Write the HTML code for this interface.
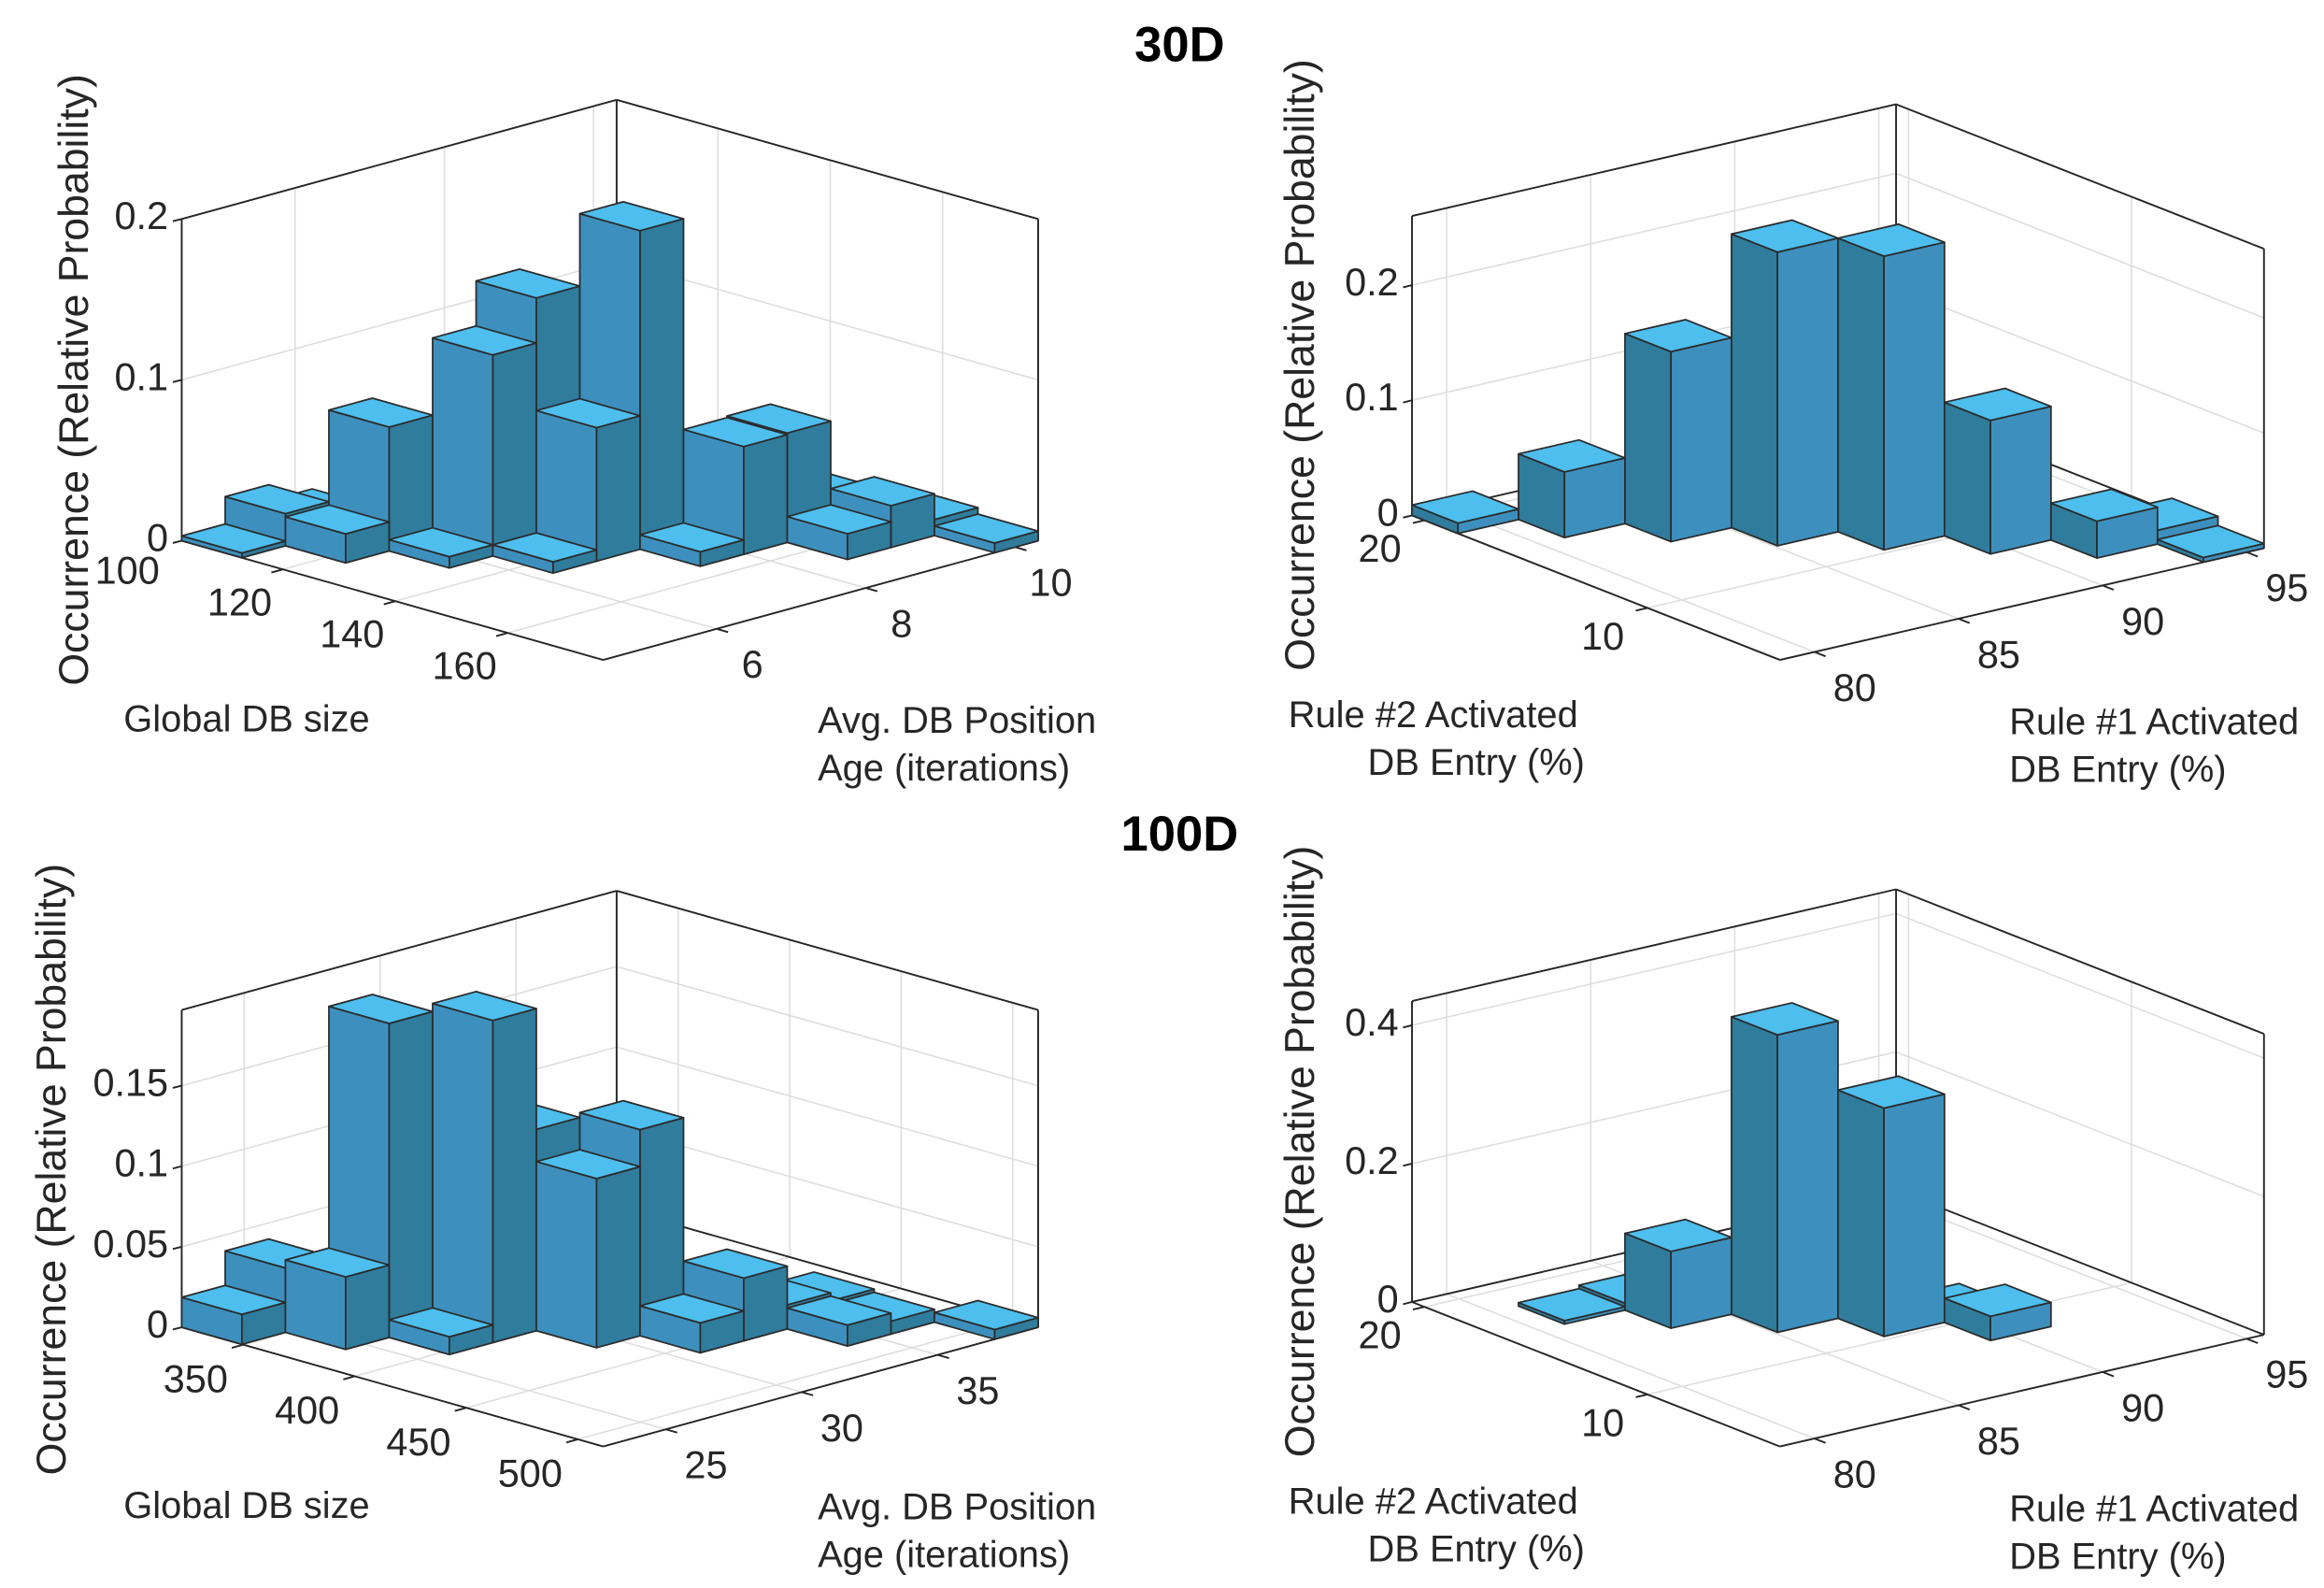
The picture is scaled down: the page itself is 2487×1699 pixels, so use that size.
<!DOCTYPE html>
<html><head><meta charset="utf-8"><title>30D / 100D histograms</title>
<style>html,body{margin:0;padding:0;background:#fff}svg{display:block}text{font-family:"Liberation Sans",Arial,sans-serif;fill:#262626}</style>
</head><body>
<svg id="fig" xmlns="http://www.w3.org/2000/svg" width="2487" height="1699" viewBox="0 0 1560.3 1066" preserveAspectRatio="none">
<rect x="0" y="0" width="1560.3" height="1066" fill="#fff"/>
<text x="792" y="41" font-size="33" font-weight="bold" text-anchor="middle" style="fill:#000">30D</text>
<text x="792" y="571" font-size="33" font-weight="bold" text-anchor="middle" style="fill:#000">100D</text>
<text x="83" y="491" font-size="25">Global DB size</text>
<text x="549" y="492" font-size="25">Avg. DB Position</text>
<text x="549" y="524" font-size="25">Age (iterations)</text>
<text transform="translate(59,255) rotate(-90)" font-size="28" text-anchor="middle">Occurrence (Relative Probability)</text>
<text x="865" y="488" font-size="25">Rule #2 Activated</text>
<text x="1064" y="520" font-size="25" text-anchor="end">DB Entry (%)</text>
<text x="1349" y="493" font-size="25">Rule #1 Activated</text>
<text x="1349" y="525" font-size="25">DB Entry (%)</text>
<text transform="translate(882,245) rotate(-90)" font-size="28" text-anchor="middle">Occurrence (Relative Probability)</text>
<text x="83" y="1019" font-size="25">Global DB size</text>
<text x="549" y="1020" font-size="25">Avg. DB Position</text>
<text x="549" y="1052" font-size="25">Age (iterations)</text>
<text transform="translate(44,785) rotate(-90)" font-size="28" text-anchor="middle">Occurrence (Relative Probability)</text>
<text x="865" y="1016" font-size="25">Rule #2 Activated</text>
<text x="1064" y="1048" font-size="25" text-anchor="end">DB Entry (%)</text>
<text x="1349" y="1021" font-size="25">Rule #1 Activated</text>
<text x="1349" y="1053" font-size="25">DB Entry (%)</text>
<text transform="translate(882,773) rotate(-90)" font-size="28" text-anchor="middle">Occurrence (Relative Probability)</text>
</svg>
<script>
// ---- data (bin indices and relative probabilities) ----
const tlBinX = [0,0,0,1,1,2,2,2,3,3,3,4,4,4,4,5,5,5,6];
const tlBinY = [0,1,2,1,2,2,3,4,3,4,5,5,6,7,8,7,8,9,9];
const tlVals = [0.003,0.02,0.01,0.018,0.077,0.007,0.125,0.153,0.007,0.083,0.198,0.009,0.067,0.068,0.02,0.016,0.026,0.01,0.006];
const tlXTicks = [100,120,140,160];
const tlYTicks = [6,8,10];
const tlZTicks = [0,0.1,0.2];

const trBinX = [0,1,2,3,4,5,6,6,7];
const trBinY = [0,1,2,3,4,5,6,7,7];
const trVals = [0.009,0.057,0.165,0.255,0.255,0.116,0.032,0.012,0.004];
const trXTicks = [20,10];
const trYTicks = [80,85,90,95];
const trZTicks = [0,0.1,0.2];

const blBinX = [0,0,1,1,2,2,2,3,3,4,4,4,4,5,5,6];
const blBinY = [0,1,1,2,2,3,4,4,5,5,6,7,8,7,8,9];
const blVals = [0.0186,0.04,0.045,0.195,0.011,0.2,0.125,0.105,0.128,0.0186,0.039,0.015,0.01,0.013,0.008,0.006];
const blXTicks = [350,400,450,500];
const blYTicks = [25,30,35];
const blZTicks = [0,0.05,0.1,0.15];

const brBinX = [1,1,2,3,4,4,5];
const brBinY = [1,2,2,3,4,5,5];
const brVals = [0.005,0.01,0.111,0.43,0.33,0.01,0.035];
const brXTicks = [20,10];
const brYTicks = [80,85,90,95];
const brZTicks = [0,0.2,0.4];

// ---- panel geometry ----
const NS = 'http://www.w3.org/2000/svg';
const svg = document.getElementById('fig');
const panels = [
 {id:'tl', L:[122,363], ex:[283,80], ey:[292,-80], H:216, zmax:0.2, nx:7, ny:10, xr:[102,177], yr:[4.48,10.31],
  bx:tlBinX, by:tlBinY, vals:tlVals, xt:tlXTicks, yt:tlYTicks, zt:tlZTicks, xo:[-29,24], yo:[24,26], leftLight:true},
 {id:'tr', L:[948,346], ex:[247,97], ey:[325,-75], H:201, zmax:0.26, nx:8, ny:8, xr:[20.56,4.06], yr:[78.8,95.6],
  bx:trBinX, by:trBinY, vals:trVals, xt:trXTicks, yt:trYTicks, zt:trZTicks, xo:[-30,21], yo:[27,26], leftLight:false},
 {id:'bl', L:[122,891], ex:[283,80], ey:[292,-80], H:213, zmax:0.197, nx:7, ny:10, xr:[322.4,511.4], yr:[22.7,38.7],
  bx:blBinX, by:blBinY, vals:blVals, xt:blXTicks, yt:blYTicks, zt:blZTicks, xo:[-32,25], yo:[27,26], leftLight:true},
 {id:'br', L:[948,874], ex:[247,97], ey:[325,-75], H:202, zmax:0.435, nx:8, ny:8, xr:[20.56,4.06], yr:[78.8,95.6],
  bx:brBinX, by:brBinY, vals:brVals, xt:brXTicks, yt:brYTicks, zt:brZTicks, xo:[-30,21], yo:[27,26], leftLight:false}
];

function P(p,u,v,z){ const w = z/p.zmax; return [p.L[0]+u*p.ex[0]+v*p.ey[0], p.L[1]+u*p.ex[1]+v*p.ey[1]-w*p.H]; }
function xU(p,val){ return (val-p.xr[0])/(p.xr[1]-p.xr[0]); }
function yV(p,val){ return (val-p.yr[0])/(p.yr[1]-p.yr[0]); }
function line(g,a,b,col,wd){ const l=document.createElementNS(NS,'line'); l.setAttribute('x1',a[0]);l.setAttribute('y1',a[1]);l.setAttribute('x2',b[0]);l.setAttribute('y2',b[1]);l.setAttribute('stroke',col);l.setAttribute('stroke-width',wd);g.appendChild(l);return l;}
function poly(g,pts,fill){ const e=document.createElementNS(NS,'polygon'); e.setAttribute('points',pts.map(q=>q.join(',')).join(' ')); e.setAttribute('fill',fill); e.setAttribute('stroke','#2b2b2b'); e.setAttribute('stroke-width','1.1'); e.setAttribute('stroke-linejoin','round'); g.appendChild(e); return e;}
function txt(g,x,y,s,anchor){ const t=document.createElementNS(NS,'text'); t.setAttribute('x',x);t.setAttribute('y',y);t.setAttribute('font-size','26');t.setAttribute('text-anchor',anchor);t.setAttribute('dominant-baseline','middle');t.textContent=s;g.appendChild(t);return t;}

panels.forEach(p=>{
  const g=document.createElementNS(NS,'g');
  
  
  svg.appendChild(g);
  const grid='#dedede', dark='#262626';
  p.zt.forEach(z=>{ if(z===0) return; line(g,P(p,0,0,z),P(p,0,1,z),grid,1); line(g,P(p,0,1,z),P(p,1,1,z),grid,1); });
  p.xt.forEach(v=>{ const u=xU(p,v); if(u<0||u>1) return; line(g,P(p,u,0,0),P(p,u,1,0),grid,1); line(g,P(p,u,1,0),P(p,u,1,p.zmax),grid,1); });
  p.yt.forEach(v=>{ const vv=yV(p,v); if(vv<0||vv>1) return; line(g,P(p,0,vv,0),P(p,1,vv,0),grid,1); line(g,P(p,0,vv,0),P(p,0,vv,p.zmax),grid,1); });
  line(g,P(p,0,0,0),P(p,0,0,p.zmax),dark,1.2);
  line(g,P(p,0,1,0),P(p,0,1,p.zmax),dark,1.2);
  line(g,P(p,1,1,0),P(p,1,1,p.zmax),dark,1.2);
  line(g,P(p,0,0,p.zmax),P(p,0,1,p.zmax),dark,1.2);
  line(g,P(p,0,1,p.zmax),P(p,1,1,p.zmax),dark,1.2);
  line(g,P(p,0,0,0),P(p,0,1,0),dark,1.2);
  line(g,P(p,0,1,0),P(p,1,1,0),dark,1.2);
  line(g,P(p,0,0,0),P(p,1,0,0),dark,1.2);
  line(g,P(p,1,0,0),P(p,1,1,0),dark,1.2);
  p.zt.forEach(z=>{ const a=P(p,0,0,z); line(g,a,[a[0]-6,a[1]+1.5],dark,1.2);
    const t=txt(g,a[0]-9,a[1],String(z),'end');
    
     });
  const eyl=Math.hypot(p.ey[0],p.ey[1]), exl=Math.hypot(p.ex[0],p.ex[1]);
  p.xt.forEach(v=>{ const u=xU(p,v); const a=P(p,u,0,0);
    if(u>=0&&u<=1) line(g,a,[a[0]-8*p.ey[0]/eyl,a[1]-8*p.ey[1]/eyl],dark,1.2);
    const t=txt(g,a[0]+p.xo[0],a[1]+p.xo[1],String(v),'middle');
    
     });
  p.yt.forEach(v=>{ const vv=yV(p,v); const a=P(p,1,vv,0);
    if(vv>=0&&vv<=1) line(g,a,[a[0]+8*p.ex[0]/exl,a[1]+8*p.ex[1]/exl],dark,1.2);
    const t=txt(g,a[0]+p.yo[0],a[1]+p.yo[1],String(v),'middle');
    
     });
  const order=p.vals.map((v,k)=>k).sort((a,b)=>(p.bx[a]-p.by[a])-(p.bx[b]-p.by[b]) || (p.bx[a]-p.bx[b]));
  const light='#3d90bd', darkc='#2f7c9d', top='#4dbeee';
  order.forEach(k=>{
    const i=p.bx[k], j=p.by[k], h=p.vals[k];
    const u0=i/p.nx, u1=(i+1)/p.nx, v0=j/p.ny, v1=(j+1)/p.ny;
    const bg=document.createElementNS(NS,'g');
    
    
    g.appendChild(bg);
    poly(bg,[P(p,u0,v0,0),P(p,u1,v0,0),P(p,u1,v0,h),P(p,u0,v0,h)], p.leftLight?light:darkc);
    poly(bg,[P(p,u1,v0,0),P(p,u1,v1,0),P(p,u1,v1,h),P(p,u1,v0,h)], p.leftLight?darkc:light);
    poly(bg,[P(p,u0,v0,h),P(p,u1,v0,h),P(p,u1,v1,h),P(p,u0,v1,h)], top);
  });
});
</script>
</body></html>
